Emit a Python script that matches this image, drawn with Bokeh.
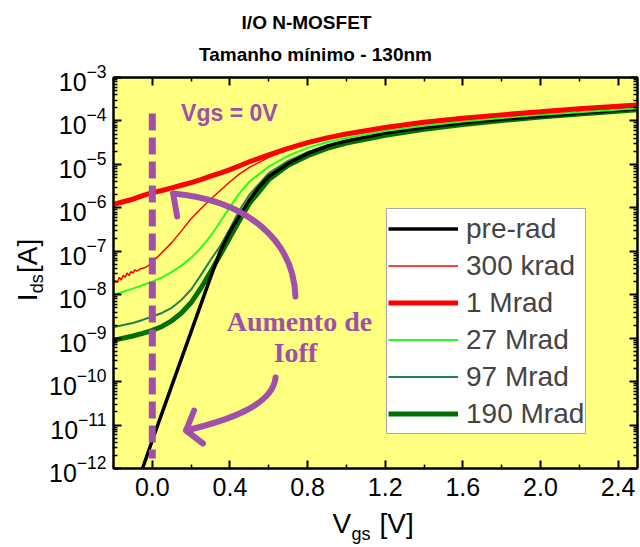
import numpy as np
from bokeh.plotting import figure
from bokeh.layouts import column, row
from bokeh.models import (FixedTicker, LinearAxis, LogAxis, PrintfTickFormatter, Label,
                          Legend, LegendItem, CustomJSTickFormatter, Range1d)
from bokeh.core.properties import value
from bokeh.embed import file_html
from bokeh.resources import INLINE

# ---------------- data ----------------
vgs = [-0.2, -0.15, -0.1, -0.05, 0.0, 0.05, 0.1, 0.15, 0.2, 0.25, 0.3, 0.35, 0.4, 0.45,
       0.5, 0.6, 0.7, 0.8, 0.9, 1.0, 1.2, 1.4, 1.6, 1.8, 2.0, 2.2, 2.5]

vgs_pre = [-0.07, 0.0, 0.1, 0.2, 0.3, 0.35, 0.4, 0.45, 0.5, 0.55, 0.6, 0.7, 0.8, 0.9,
           1.0, 1.2, 1.4, 1.6, 1.8, 2.0, 2.2, 2.5]
ids_pre = [5.62e-13, 4.47e-12, 7.94e-11, 1.41e-9, 2.51e-8, 1.00e-7, 2.82e-7, 6.61e-7,
           1.51e-6, 3.02e-6, 5.25e-6, 1.05e-5, 1.78e-5, 2.63e-5, 3.47e-5, 5.25e-5,
           7.08e-5, 8.91e-5, 1.10e-4, 1.29e-4, 1.51e-4, 1.91e-4]

vgs_300k = [-0.2, -0.19, -0.18, -0.17, -0.16, -0.15, -0.14, -0.13, -0.12, -0.11, -0.10,
            -0.09, -0.08, -0.06, -0.04, -0.02, 0.0, 0.05, 0.1, 0.15, 0.2, 0.25, 0.3, 0.35,
            0.4, 0.45, 0.5, 0.6, 0.7, 0.8, 0.9, 1.0, 1.2, 1.4, 1.6, 1.8, 2.0, 2.2, 2.5]
ids_300k = [1.78e-8, 2.09e-8, 1.91e-8, 2.51e-8, 2.19e-8, 2.82e-8, 2.51e-8, 3.16e-8, 2.75e-8,
            3.39e-8, 3.16e-8, 3.72e-8, 3.47e-8, 3.98e-8, 4.17e-8, 4.68e-8, 5.62e-8, 9.33e-8,
            1.58e-7, 2.95e-7, 5.62e-7, 9.55e-7, 1.58e-6, 2.51e-6, 3.98e-6, 6.03e-6, 8.51e-6,
            1.45e-5, 2.19e-5, 3.02e-5, 3.89e-5, 4.79e-5, 6.92e-5, 9.12e-5, 1.12e-4, 1.35e-4,
            1.58e-4, 1.86e-4, 2.29e-4]

ids_1m = [1.20e-6, 1.38e-6, 1.58e-6, 1.91e-6, 2.24e-6, 2.51e-6, 2.88e-6, 3.31e-6, 3.80e-6,
          4.47e-6, 5.37e-6, 6.31e-6, 7.59e-6, 9.33e-6, 1.15e-5, 1.66e-5, 2.34e-5, 3.16e-5,
          4.07e-5, 5.01e-5, 7.08e-5, 9.33e-5, 1.15e-4, 1.38e-4, 1.62e-4, 1.91e-4, 2.34e-4]

ids_27m = [1.00e-8, 1.17e-8, 1.38e-8, 1.66e-8, 2.00e-8, 2.51e-8, 3.31e-8, 4.68e-8, 7.08e-8,
           1.20e-7, 2.24e-7, 4.79e-7, 1.05e-6, 2.19e-6, 3.98e-6, 8.91e-6, 1.58e-5, 2.40e-5,
           3.24e-5, 4.07e-5, 5.89e-5, 7.76e-5, 9.77e-5, 1.17e-4, 1.38e-4, 1.58e-4, 1.95e-4]

ids_97m = [1.78e-9, 2.00e-9, 2.24e-9, 2.63e-9, 3.16e-9, 3.80e-9, 5.01e-9, 7.59e-9, 1.32e-8,
           2.82e-8, 6.31e-8, 1.32e-7, 3.31e-7, 8.91e-7, 2.00e-6, 6.31e-6, 1.20e-5, 1.91e-5,
           2.69e-5, 3.47e-5, 5.13e-5, 6.92e-5, 8.71e-5, 1.07e-4, 1.29e-4, 1.48e-4, 1.86e-4]

ids_190m = [8.91e-10, 1.00e-9, 1.12e-9, 1.29e-9, 1.51e-9, 1.86e-9, 2.51e-9, 3.80e-9, 6.61e-9,
            1.41e-8, 3.31e-8, 8.32e-8, 2.09e-7, 5.25e-7, 1.26e-6, 4.47e-6, 9.55e-6, 1.58e-5,
            2.34e-5, 3.09e-5, 4.68e-5, 6.46e-5, 8.32e-5, 1.02e-4, 1.23e-4, 1.45e-4, 1.82e-4]

series_labels = ["pre-rad", "300 krad", "1 Mrad", "27 Mrad", "97 Mrad", "190 Mrad"]
x_ticks = [0.0, 0.4, 0.8, 1.2, 1.6, 2.0, 2.4]
x_minor = [-0.2, 0.2, 0.6, 1.0, 1.4, 1.8, 2.2]
y_ticks = [1e-12, 1e-11, 1e-10, 1e-9, 1e-8, 1e-7, 1e-6, 1e-5, 1e-4, 1e-3]
title_lines = ["I/O N-MOSFET", "Tamanho mínimo - 130nm"]

# ---------------- layout (pixels of the 640x547 page) ----------------
W, H = 640, 547
TOP_H, BOT_H, LEFT_W = 63, 40, 46          # text strips around the main figure
FL, FT, FR, FB = 110, 77, 637, 468          # frame edges on the page
MID_H = H - TOP_H - BOT_H
X0, X1 = -0.2, 2.5
LOG0, LOG1 = -12, -3
FW, FH = FR - FL, FB - FT
FONT = "Liberation Sans"
PURPLE = "#A050A8"


def px_x(px):
    return X0 + (px - FL) / FW * (X1 - X0)


def px_y(py):
    return 10 ** (LOG1 - (py - FT) / FH * (LOG1 - LOG0))


p = figure(width=W - LEFT_W, height=MID_H, y_axis_type="log",
           x_range=Range1d(X0, X1), y_range=Range1d(1e-12, 1e-3),
           output_backend="svg", toolbar_location=None,
           min_border_left=FL - LEFT_W, min_border_right=W - FR,
           min_border_top=FT - TOP_H, min_border_bottom=H - BOT_H - FB)
p.background_fill_color = "#FFFF80"
p.border_fill_color = "white"
p.outline_line_color = "black"
p.outline_line_width = 2
p.xgrid.visible = False
p.ygrid.visible = False

minor_y = [k * 10.0 ** e for e in range(-12, -3) for k in range(2, 10)]
xt = FixedTicker(ticks=x_ticks, minor_ticks=x_minor)
yt = FixedTicker(ticks=y_ticks, minor_ticks=minor_y)


def style_axis(ax, size="25px"):
    ax.axis_line_width = 2
    ax.axis_line_color = "black"
    ax.major_tick_in = 8
    ax.major_tick_out = 0
    ax.minor_tick_in = 4
    ax.minor_tick_out = 0
    ax.major_tick_line_width = 2
    ax.minor_tick_line_width = 1.5
    ax.major_label_text_font = FONT
    ax.major_label_text_font_size = size
    ax.major_label_text_color = "black"


xa = p.xaxis[0]
xa.ticker = xt
xa.formatter = PrintfTickFormatter(format="%.1f")
style_axis(xa)
xa.major_label_standoff = 9

ya = p.yaxis[0]
ya.ticker = yt
style_axis(ya)
ya.major_label_standoff = 7

blank = CustomJSTickFormatter(code="return ''")
top_ax = LinearAxis(ticker=xt, formatter=blank)
style_axis(top_ax, "1px")
top_ax.major_label_standoff = 0
p.add_layout(top_ax, "above")
right_ax = LogAxis(ticker=yt, formatter=blank)
style_axis(right_ax, "1px")
right_ax.major_label_standoff = 0
p.add_layout(right_ax, "right")

# ---------------- curves ----------------
r190 = p.line(vgs, ids_190m, line_color="#007000", line_width=5)
r97 = p.line(vgs, ids_97m, line_color="#1F7F55", line_width=2)
rpre = p.line(vgs_pre, ids_pre, line_color="black", line_width=3.5)
r27 = p.line(vgs, ids_27m, line_color="#22FF22", line_width=2)
r300 = p.line(vgs_300k, ids_300k, line_color="#FF0000", line_width=1.5)
r1m = p.line(vgs, ids_1m, line_color="#FF0000", line_width=5)

# ---------------- annotations inside the frame ----------------
p.line([0.0, 0.0], [px_y(113), px_y(458)], line_color=PURPLE, line_width=7, line_dash="17 7")

p.bezier(x0=[px_x(293), px_x(273)], y0=[px_y(296), px_y(377)],
         x1=[px_x(170), px_x(183)], y1=[px_y(193), px_y(430)],
         cx0=[px_x(291), px_x(270)], cy0=[px_y(240), px_y(405)],
         cx1=[px_x(245), px_x(225)], cy1=[px_y(200), px_y(420)],
         line_color=PURPLE, line_width=6, line_cap="round")
p.line([px_x(170), px_x(174)], [px_y(193), px_y(216)],
       line_color=PURPLE, line_width=6, line_cap="round")
p.line([px_x(191), px_x(183), px_x(200)], [px_y(410), px_y(430), px_y(443)],
       line_color=PURPLE, line_width=6, line_cap="round", line_join="round")


def lab(px, py, text, size, font=FONT, style="bold", align="left", color=PURPLE):
    # py is the vertical centre of the text
    p.add_layout(Label(x=px_x(px), y=px_y(py), text=text, text_font=font,
                       text_font_size=size, text_font_style=style, text_align=align,
                       text_baseline="middle", text_color=color))


lab(178, 112, "Vgs = 0V", "23px")
lab(297, 321, "Aumento de", "28px", font="Liberation Serif", align="center")
lab(293, 352, "Ioff", "28px", font="Liberation Serif", align="center")

# ---------------- legend ----------------
legend = Legend(items=[LegendItem(label=series_labels[0], renderers=[rpre]),
                       LegendItem(label=series_labels[1], renderers=[r300]),
                       LegendItem(label=series_labels[2], renderers=[r1m]),
                       LegendItem(label=series_labels[3], renderers=[r27]),
                       LegendItem(label=series_labels[4], renderers=[r97]),
                       LegendItem(label=series_labels[5], renderers=[r190])],
                location=(383 - FL, FB - 434), glyph_width=70, glyph_height=37,
                label_height=37, spacing=0, padding=1, margin=0, label_standoff=8,
                label_text_font=FONT, label_text_font_size="28px",
                border_line_color="#555555", border_line_width=1.5,
                background_fill_color="white", background_fill_alpha=1.0)
p.add_layout(legend)


# ---------------- text strips (titles and axis titles) ----------------
def strip(w, h):
    f = figure(width=w, height=h, x_range=Range1d(0, w), y_range=Range1d(h, 0),
               output_backend="svg", toolbar_location=None, title=None,
               x_axis_location=None, y_axis_location=None,
               min_border=0, outline_line_color=None)
    f.xgrid.visible = False
    f.ygrid.visible = False
    f.background_fill_color = "white"
    f.border_fill_color = "white"
    return f


def stext(f, x, y, text, size, style="normal", align="left", angle=0.0):
    # y (or x for rotated text) is the centre line of the text
    f.text(x=[x], y=[y], text=[text], text_font=value(FONT), text_font_size=size,
           text_font_style=style, text_align=align, text_baseline="middle",
           text_color="black", angle=angle)


top = strip(W, TOP_H)
stext(top, 306, 22, title_lines[0], "19px", style="bold", align="center")
stext(top, 315, 53.5, title_lines[1], "19px", style="bold", align="center")

left = strip(LEFT_W, MID_H)
stext(left, 27, 317 - TOP_H, "I", "28px", angle=np.pi / 2)
stext(left, 36.5, 308 - TOP_H, "ds", "18px", angle=np.pi / 2)
stext(left, 27, 285 - TOP_H, "[A]", "28px", angle=np.pi / 2)

bottom = strip(W, BOT_H)
by = H - BOT_H
stext(bottom, 332, 523 - by, "V", "28px")
stext(bottom, 351, 533 - by, "gs", "18px")
stext(bottom, 379, 523 - by, "[V]", "28px")

page = column(top, row(left, p, spacing=0), bottom, spacing=0)

open("out.html", "w").write(file_html(page, INLINE))
